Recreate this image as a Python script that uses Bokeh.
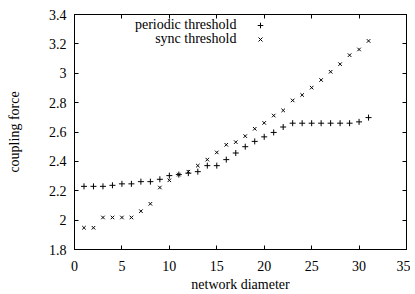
from bokeh.plotting import figure
from bokeh.models import (LinearAxis, FixedTicker, CustomJSTickFormatter, Legend,
                          LegendItem, Label, Range1d, ColumnDataSource)
from bokeh.embed import file_html
from bokeh.resources import INLINE

# ---- data ----
diameter = list(range(1, 32))
periodic_threshold = [2.23, 2.23, 2.23, 2.237, 2.247, 2.247, 2.262, 2.262, 2.278, 2.303,
                      2.31, 2.32, 2.33, 2.371, 2.371, 2.412, 2.457, 2.50, 2.536, 2.567,
                      2.597, 2.634, 2.66, 2.66, 2.66, 2.66, 2.66, 2.66, 2.66, 2.669, 2.698]
sync_threshold = [1.948, 1.948, 2.018, 2.018, 2.018, 2.018, 2.061, 2.111, 2.222, 2.271,
                  2.31, 2.33, 2.371, 2.412, 2.461, 2.513, 2.531, 2.572, 2.622, 2.662,
                  2.712, 2.747, 2.815, 2.852, 2.902, 2.954, 3.01, 3.062, 3.123, 3.162, 3.22]
x_ticks = [0, 5, 10, 15, 20, 25, 30, 35]
y_ticks = [1.8, 2.0, 2.2, 2.4, 2.6, 2.8, 3.0, 3.2, 3.4]
series_names = ["periodic threshold", "sync threshold"]

FONT = "Liberation Serif"
FS = "14px"

p = figure(frame_width=332, frame_height=235, output_backend="svg", toolbar_location=None,
           x_range=Range1d(0, 35), y_range=Range1d(1.8, 3.4),
           min_border_left=74, min_border_top=14, min_border_right=4, min_border_bottom=45,
           x_axis_label="network diameter", y_axis_label="coupling force")
p.xgrid.visible = False
p.ygrid.visible = False
p.outline_line_color = "black"
p.outline_line_alpha = 1
p.background_fill_color = "white"
p.border_fill_color = "white"

fmt = CustomJSTickFormatter(code="return String(Number(tick.toFixed(2)));")
blank = CustomJSTickFormatter(code="return '';")

for ax in p.xaxis:
    ax.ticker = FixedTicker(ticks=x_ticks)
    ax.major_label_standoff = 11
    ax.axis_label_standoff = 3
for ax in p.yaxis:
    ax.ticker = FixedTicker(ticks=y_ticks)
    ax.formatter = fmt
    ax.major_label_standoff = 8
    ax.axis_label_standoff = 24

for ax in list(p.xaxis) + list(p.yaxis):
    ax.major_tick_in = 4
    ax.major_tick_out = 0
    ax.minor_tick_in = 0
    ax.minor_tick_out = 0
    ax.axis_line_color = "black"
    ax.major_tick_line_color = "black"
    ax.major_label_text_font = FONT
    ax.major_label_text_font_size = FS
    ax.major_label_text_color = "black"
    ax.axis_label_text_font = FONT
    ax.axis_label_text_font_size = FS
    ax.axis_label_text_font_style = "normal"
    ax.axis_label_text_color = "black"

# mirrored ticks on top and right
top = LinearAxis(ticker=FixedTicker(ticks=x_ticks), formatter=blank, major_tick_in=4,
                 major_tick_out=0, minor_tick_in=0, minor_tick_out=0,
                 major_label_standoff=0, axis_line_color="black")
right = LinearAxis(ticker=FixedTicker(ticks=y_ticks), formatter=blank, major_tick_in=4,
                   major_tick_out=0, minor_tick_in=0, minor_tick_out=0,
                   major_label_standoff=0, axis_line_color="black")
p.add_layout(top, "above")
p.add_layout(right, "right")

src = ColumnDataSource(dict(x=diameter, per=periodic_threshold, syn=sync_threshold))
r1 = p.scatter("x", "per", source=src, marker="cross", size=6, line_color="black", line_width=1)
r2 = p.scatter("x", "syn", source=src, marker="x", size=5, line_color="black", line_width=1)

legend = Legend(items=[LegendItem(label="", renderers=[r1]),
                       LegendItem(label="", renderers=[r2])],
                location=(176, 203), padding=0, margin=0, spacing=0,
                glyph_width=20, glyph_height=14, label_height=14, label_width=0,
                label_standoff=0,
                border_line_color=None, background_fill_alpha=0)
p.add_layout(legend, "center")

for name, yy in zip(series_names, [3.329, 3.234]):
    p.add_layout(Label(x=17.07, y=yy, text=name, text_align="right", text_baseline="middle",
                       text_font=FONT, text_font_size=FS, text_color="black"))

open("out.html", "w").write(file_html(p, INLINE))
